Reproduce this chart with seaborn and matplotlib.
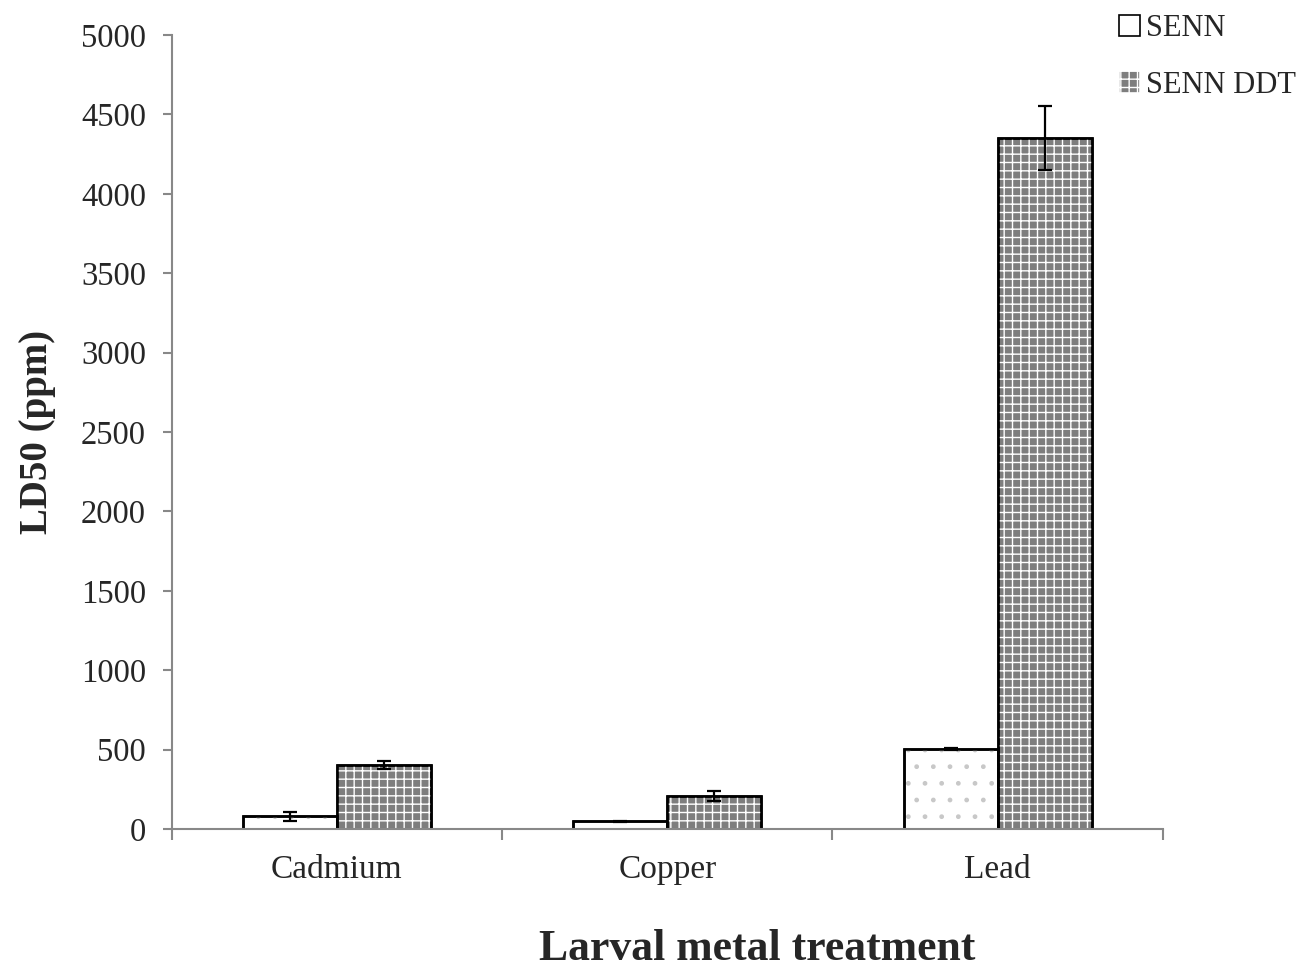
import pandas as pd
import matplotlib
matplotlib.use("Agg")
import matplotlib.pyplot as plt
import seaborn as sns
from matplotlib.patches import Rectangle, Patch

# Data
metals = ["Cadmium", "Copper", "Lead"]
strains = ["SENN", "SENN DDT"]
senn_ld50 = [80, 48, 505]
senn_err = [30, 5, 8]
ddt_ld50 = [405, 210, 4350]
ddt_err = [25, 32, 200]

df = pd.DataFrame({
    "metal": metals * 2,
    "strain": [strains[0]] * 3 + [strains[1]] * 3,
    "ld50": senn_ld50 + ddt_ld50,
    "err": senn_err + ddt_err,
})

sns.set_style("white")
plt.rcParams["font.family"] = ["Liberation Serif", "DejaVu Serif"]

fig = plt.figure(figsize=(13.11, 9.72), dpi=100)
ax = fig.add_axes([0.131, 0.147, 0.756, 0.817])

palette = {"SENN": "#ffffff", "SENN DDT": "#7e7e7e"}
sns.barplot(data=df, x="metal", y="ld50", hue="strain", order=metals,
            hue_order=strains, palette=palette, width=0.57, gap=0,
            edgecolor="black", linewidth=1.8, errorbar=None, legend=False, ax=ax)

# hatching overlay + error bars
hatch_style = {"SENN": ("#c8c8c8", "."), "SENN DDT": ("#ffffff", "++")}
bars = ax.patches[:6]
for i, p in enumerate(bars):
    strain = strains[i // 3]
    col, h = hatch_style[strain]
    ax.add_patch(Rectangle((p.get_x(), 0), p.get_width(), p.get_height(),
                           facecolor="none", edgecolor=col, hatch=h,
                           linewidth=0, zorder=p.get_zorder() + 0.1))
    ax.add_patch(Rectangle((p.get_x(), 0), p.get_width(), p.get_height(),
                           facecolor="none", edgecolor="black",
                           linewidth=1.8, zorder=p.get_zorder() + 0.2))
    ax.errorbar(p.get_x() + p.get_width() / 2, df["ld50"].iloc[i],
                yerr=df["err"].iloc[i], fmt="none", ecolor="black",
                elinewidth=1.6, capsize=5, capthick=1.6, zorder=5)

ax.set_ylim(0, 5000)
ax.set_xlim(-0.5, 2.5)
ax.set_yticks(range(0, 5001, 500))
ax.tick_params(axis="y", labelsize=23.5, length=6.5, width=1.5, color="#888888",
               direction="out", left=True, pad=12)
ax.set_xticks([0, 1, 2])
ax.set_xticks([-0.5, 0.5, 1.5, 2.5], minor=True)
ax.tick_params(axis="x", which="major", length=0, labelsize=24, pad=18)
ax.tick_params(axis="x", which="minor", length=8, width=1.5, color="#888888",
               direction="out", bottom=True)

for s in ["top", "right"]:
    ax.spines[s].set_visible(False)
for s in ["left", "bottom"]:
    ax.spines[s].set_color("#888888")
    ax.spines[s].set_linewidth(1.5)

ax.set_xlabel("Larval metal treatment", fontsize=31.5, fontweight="bold")
ax.xaxis.set_label_coords(0.591, -0.126)
ax.set_ylabel("LD50 (ppm)", fontsize=28, fontweight="bold", labelpad=18)

handles = [Patch(facecolor="#ffffff", edgecolor="black", linewidth=1.2),
           Patch(facecolor="#7e7e7e", edgecolor="white", hatch="++", linewidth=1.2)]
leg = fig.legend(handles, strains, loc="upper left", bbox_to_anchor=(0.844, 0.998),
                 frameon=False, fontsize=22, handlelength=0.7, handleheight=0.7,
                 handletextpad=0.2, labelspacing=0.9, borderaxespad=0)

fig.savefig("out.png", dpi=100)
